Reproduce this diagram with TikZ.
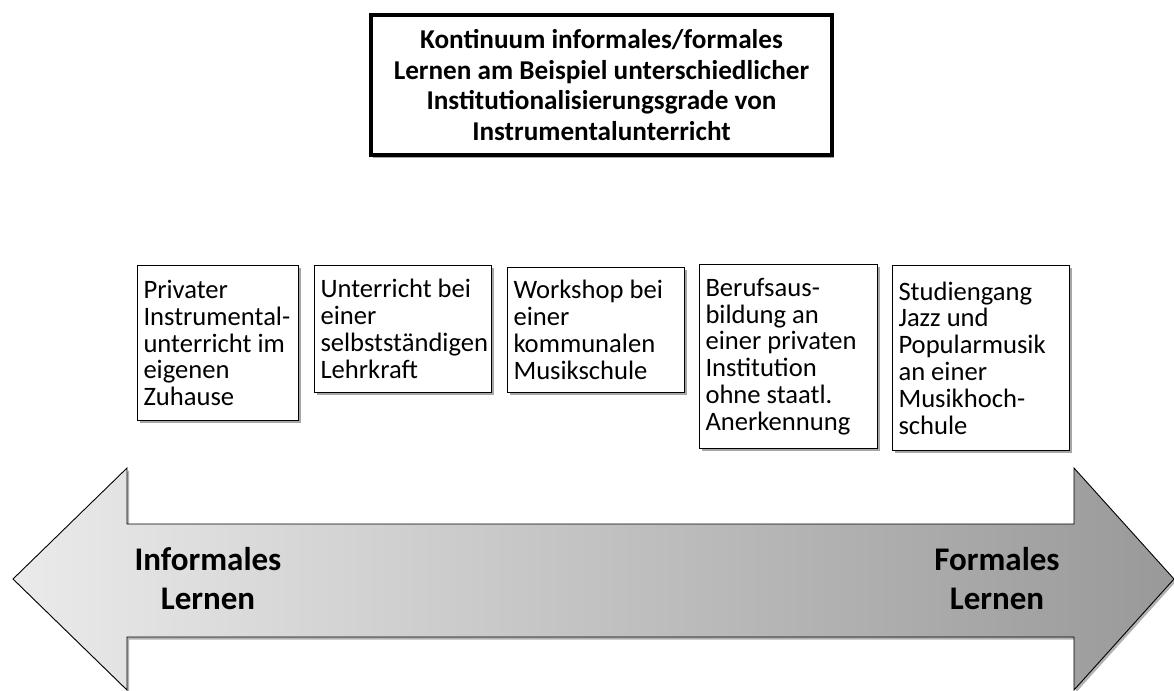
\documentclass[tikz,border=0pt]{standalone}
\usepackage{fontspec}
\setmainfont{Carlito}
\usetikzlibrary{shadows}
\begin{document}
\begin{tikzpicture}[x=1pt,y=-1pt,
  stage/.style={draw=black, line width=1pt, fill=white, anchor=north west,
    align=flush left, inner xsep=6pt, inner ysep=0pt,
    font=\fontsize{26.6}{26.8}\selectfont,
    drop shadow={shadow xshift=2pt, shadow yshift=-2.5pt, opacity=0.35, fill=black}},
  titlebox/.style={draw=black, line width=4pt, fill=white, align=center,
    minimum width=461pt, minimum height=140pt, inner sep=0pt,
    font=\bfseries\fontsize{27.2}{30.5}\selectfont,
    drop shadow={shadow xshift=2pt, shadow yshift=-2.5pt, opacity=0.35, fill=black}},
  arrowlabel/.style={align=center, inner sep=0pt,
    font=\bfseries\fontsize{33}{39}\selectfont},
]
\useasboundingbox (0,0) rectangle (1174,690);

% double arrow
\path[draw=black, line width=0.9pt, left color=black!8, right color=black!40,
  drop shadow={shadow xshift=2pt, shadow yshift=-2.5pt, opacity=0.3, fill=black}]
  (13,579) -- (127,468) -- (127,524) -- (1074,524) -- (1074,468) -- (1174,579)
  -- (1074,690) -- (1074,637) -- (127,637) -- (127,690) -- cycle;

\node[arrowlabel] (inf) at (208,579) {Informales\\Lernen};
\node[arrowlabel] (form) at (997,579) {Formales\\Lernen};

% title
\node[titlebox] (title) at (601.5,85) {Kontinuum informales/formales\\Lernen am Beispiel unterschiedlicher\\Institutionalisierungsgrade von\\Instrumentalunterricht};

% stages
\node[stage, text width=149pt, minimum height=155pt] (b1) at (137,265)
  {Privater\\Instrumental-\\unterricht im\\eigenen\\Zuhause};
\node[stage, text width=165pt, minimum height=127pt] (b2) at (314,265)
  {Unterricht bei\\einer\\selbstständigen\\Lehrkraft};
\node[stage, text width=165pt, minimum height=125pt] (b3) at (507,267)
  {Workshop bei\\einer\\kommunalen\\Musikschule};
\node[stage, text width=166pt, minimum height=184pt] (b4) at (699,264)
  {Berufsaus-\\bildung an\\einer privaten\\Institution\\ohne staatl.\\Anerkennung};
\node[stage, text width=165pt, minimum height=185pt] (b5) at (892,265)
  {Studiengang\\Jazz und\\Popularmusik\\an einer\\Musikhoch-\\schule};
\end{tikzpicture}
\end{document}
